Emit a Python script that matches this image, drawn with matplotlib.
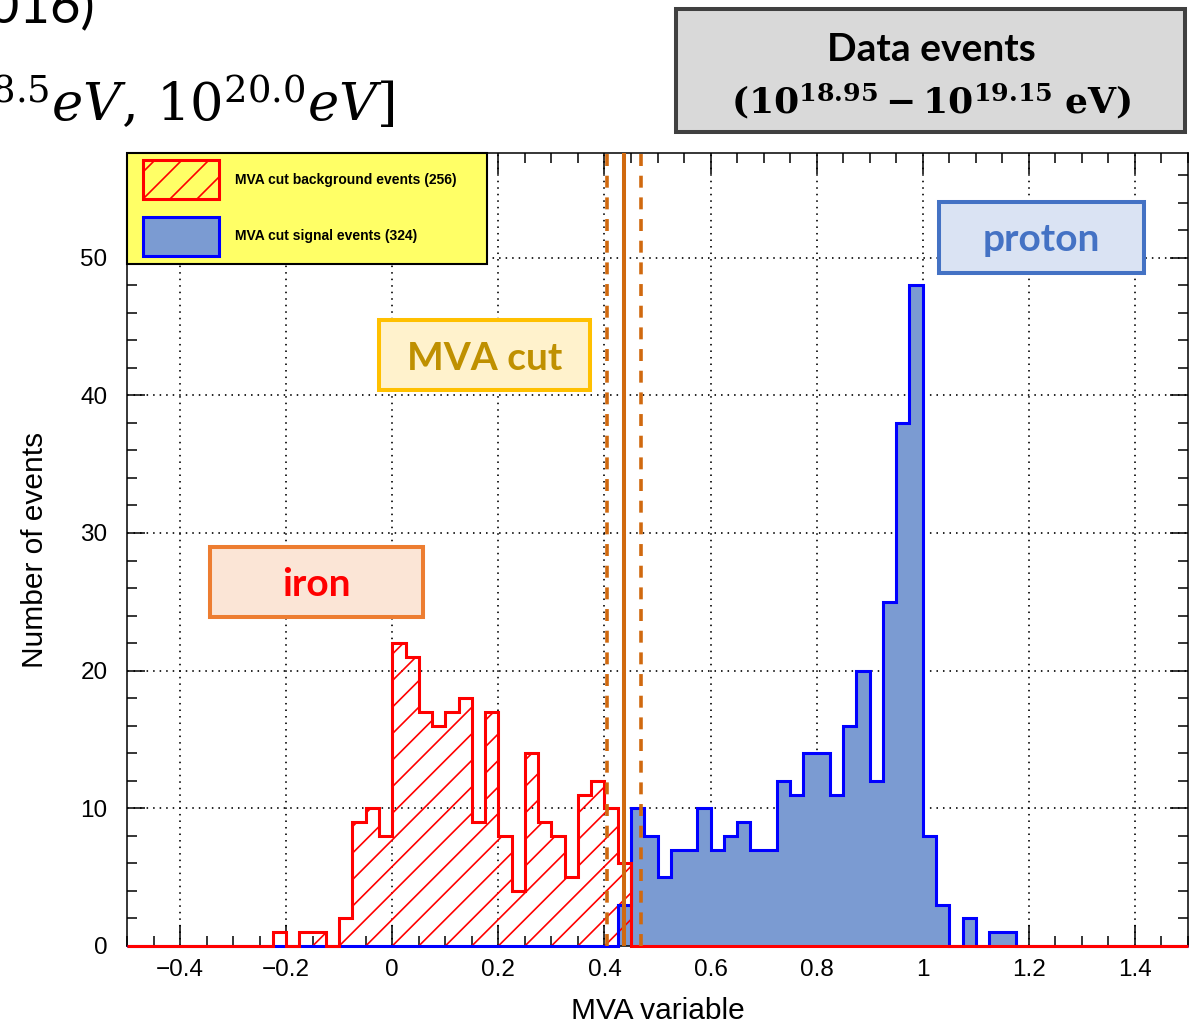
import numpy as np
import matplotlib
matplotlib.use("Agg")
import matplotlib.pyplot as plt
from matplotlib.patches import Rectangle
from matplotlib.collections import LineCollection
from matplotlib.ticker import MultipleLocator
from matplotlib.transforms import Affine2D

# ---------------- data ----------------
bin_width = 0.025
x_min, x_max = -0.5, 1.5
y_max = 57.6

bkg_first_bin = -0.225
bkg_counts = [1, 0, 1, 1, 0, 2, 9, 10, 8, 22, 21, 17, 16, 17, 18, 9, 17, 8,
              4, 14, 9, 8, 5, 11, 12, 10, 6]
sig_first_bin = 0.425
sig_counts = [3, 10, 8, 5, 7, 7, 10, 7, 8, 9, 7, 7, 12, 11, 14, 14, 11, 16,
              20, 12, 25, 38, 48, 8, 3, 0, 2, 0, 1, 1]

mva_cut = 0.436
mva_cut_band = [0.404, 0.469]

legend_labels = ["MVA cut background events (256)", "MVA cut signal events (324)"]
x_tick_values = [-0.4, -0.2, 0, 0.2, 0.4, 0.6, 0.8, 1.0, 1.2, 1.4]
x_tick_labels = ["\u22120.4", "\u22120.2", "0", "0.2", "0.4", "0.6", "0.8", "1", "1.2", "1.4"]
y_tick_values = [0, 10, 20, 30, 40, 50]
y_tick_labels = ["0", "10", "20", "30", "40", "50"]

# ---------------- build histograms ----------------
n_bins = int(round((x_max - x_min) / bin_width))
edges = x_min + bin_width * np.arange(n_bins + 1)
bkg = np.zeros(n_bins)
i0 = int(round((bkg_first_bin - x_min) / bin_width))
bkg[i0:i0 + len(bkg_counts)] = bkg_counts
sig = np.zeros(n_bins)
j0 = int(round((sig_first_bin - x_min) / bin_width))
sig[j0:j0 + len(sig_counts)] = sig_counts

# ---------------- style ----------------
plt.rcParams["font.family"] = ["Liberation Sans", "DejaVu Sans"]
plt.rcParams["mathtext.fontset"] = "dejavuserif"
plt.rcParams["lines.scale_dashes"] = False

RED = "#ff0000"
BLUE = "#0000ff"
FILL_BLUE = "#7b9bd2"
ORANGE = "#d0690f"

W, H = 1195, 1023
fig = plt.figure(figsize=(W / 100, H / 100), dpi=100)
fig.patch.set_facecolor("white")
# transform: figure pixels measured from the top-left corner
tpx = Affine2D().scale(1.0 / W, -1.0 / H).translate(0, 1) + fig.transFigure

ax_l, ax_r, ax_t, ax_b = 127, 1188, 153, 946
ax_w_px, ax_h_px = ax_r - ax_l, ax_b - ax_t
ax = fig.add_axes([ax_l / W, 1 - ax_b / H, ax_w_px / W, ax_h_px / H])
ax.set_xlim(x_min, x_max)
ax.set_ylim(0, y_max)

# grid
ax.set_axisbelow(True)
ax.grid(True, which="major", color="black", linestyle=(0, (1.1, 3.6)), linewidth=1.2)

# signal histogram fill
ax.stairs(sig, edges, fill=True, facecolor=FILL_BLUE, edgecolor="none", linewidth=0, zorder=2)

# background hatched histogram
hatch_patch = ax.stairs(bkg, edges, fill=True, facecolor="none", edgecolor="none",
                        linewidth=0, zorder=3)
segs = []
for k in range(-60, 41):
    xb = (0.05 * k - x_min) / (x_max - x_min)
    segs.append([(xb, 0.0), (xb + ax_h_px / ax_w_px, 1.0)])
lc = LineCollection(segs, colors=RED, linewidths=1.2, transform=ax.transAxes, zorder=3)
ax.add_collection(lc)
lc.set_clip_path(hatch_patch)

ax.stairs(sig, edges, color=BLUE, linewidth=2.2, zorder=4, clip_on=False)
ax.stairs(bkg, edges, color=RED, linewidth=2.2, zorder=5, clip_on=False)

# MVA cut lines
ax.axvline(mva_cut, color=ORANGE, linewidth=2.9, zorder=6)
for xc in mva_cut_band:
    ax.axvline(xc, color=ORANGE, linewidth=2.6, linestyle=(0, (8.6, 7.0)), zorder=6)

# ticks
ax.set_xticks(x_tick_values, x_tick_labels)
ax.set_yticks(y_tick_values, y_tick_labels)
ax.xaxis.set_minor_locator(MultipleLocator(0.05))
ax.yaxis.set_minor_locator(MultipleLocator(2))
ax.tick_params(which="both", direction="in", top=True, right=True, width=1.1, color="black")
ax.tick_params(axis="x", which="major", length=15, pad=9, labelsize=17.5)
ax.tick_params(axis="x", which="minor", length=7.2)
ax.tick_params(axis="y", which="major", length=13, pad=14, labelsize=17.5)
ax.tick_params(axis="y", which="minor", length=7.2)
for s in ax.spines.values():
    s.set_linewidth(1.1)

ax.set_xlabel("MVA variable", fontsize=21.5, va="baseline")
ax.xaxis.set_label_coords(0.5, -(1019 - ax_b) / ax_h_px)
ax.set_ylabel("Number of events", fontsize=21.5, va="center")
ax.yaxis.set_label_coords((35 - ax_l) / ax_w_px, 0.5)

# ---------------- legend (ROOT style box) ----------------
fig.add_artist(Rectangle((127, 153), 360, 111, transform=tpx, facecolor="#ffff66",
                         edgecolor="black", linewidth=1.5, zorder=2))
leg_hatch_box = Rectangle((143, 160), 76, 39, transform=tpx, facecolor="none",
                          edgecolor="none", zorder=2)
fig.add_artist(leg_hatch_box)
leg_segs = []
for k in range(-3, 5):
    c = 143 + 27 * k
    leg_segs.append([(c, 199), (c + 39, 160)])
leg_lc = LineCollection(leg_segs, colors=RED, linewidths=1.2, transform=tpx, zorder=2)
fig.add_artist(leg_lc)
leg_lc.set_clip_path(leg_hatch_box)
fig.add_artist(Rectangle((143, 160), 76, 39, transform=tpx, facecolor="none",
                         edgecolor=RED, linewidth=2.2, zorder=2))
fig.add_artist(Rectangle((143, 217), 76, 39, transform=tpx, facecolor=FILL_BLUE,
                         edgecolor=BLUE, linewidth=2.2, zorder=2))
fig.text(235, 180, legend_labels[0], transform=tpx, fontsize=10, fontweight="bold",
         va="center", ha="left", zorder=3)
fig.text(235, 236, legend_labels[1], transform=tpx, fontsize=10, fontweight="bold",
         va="center", ha="left", zorder=3)

# ---------------- slide annotations ----------------
def box(x0, y0, x1, y1, fc, ec):
    fig.add_artist(Rectangle((x0, y0), x1 - x0, y1 - y0, transform=tpx, facecolor=fc,
                             edgecolor=ec, linewidth=2.9, zorder=4))

box(676, 9, 1185, 132, "#d9d9d9", "#404040")
fig.text(931, 61, "Data events", transform=tpx, fontsize=28, fontweight="bold",
         family="Lato", ha="center", va="baseline", zorder=5)
fig.text(931, 113, r"$\mathbf{(10^{18.95}-10^{19.15}\ eV)}$", transform=tpx,
         fontsize=26, ha="center", va="baseline", zorder=5)

box(379, 320, 590, 390, "#fff2cc", "#ffc000")
fig.text(485, 370, "MVA cut", transform=tpx, fontsize=28, fontweight="bold",
         family="Lato", color="#bf9000", ha="center", va="baseline", zorder=5)

box(210, 547, 423, 617, "#fbe5d6", "#ed7d31")
fig.text(316, 596, "iron", transform=tpx, fontsize=28, fontweight="bold",
         family="Lato", color="#ff0000", ha="center", va="baseline", zorder=5)

box(939, 202, 1144, 273, "#dae3f3", "#4472c4")
fig.text(1041, 251, "proton", transform=tpx, fontsize=28, fontweight="bold",
         family="Lato", color="#4472c4", ha="center", va="baseline", zorder=5)

# partially visible slide title text (cut by the image border)
fig.text(95, 23, "2016)", transform=tpx, fontsize=38, family="Lato",
         ha="right", va="baseline", zorder=5)
fig.text(395, 121, r"$[10^{18.5}eV,\,10^{20.0}eV]$", transform=tpx, fontsize=38,
         ha="right", va="baseline", zorder=5)

fig.savefig("out.png", dpi=100)
